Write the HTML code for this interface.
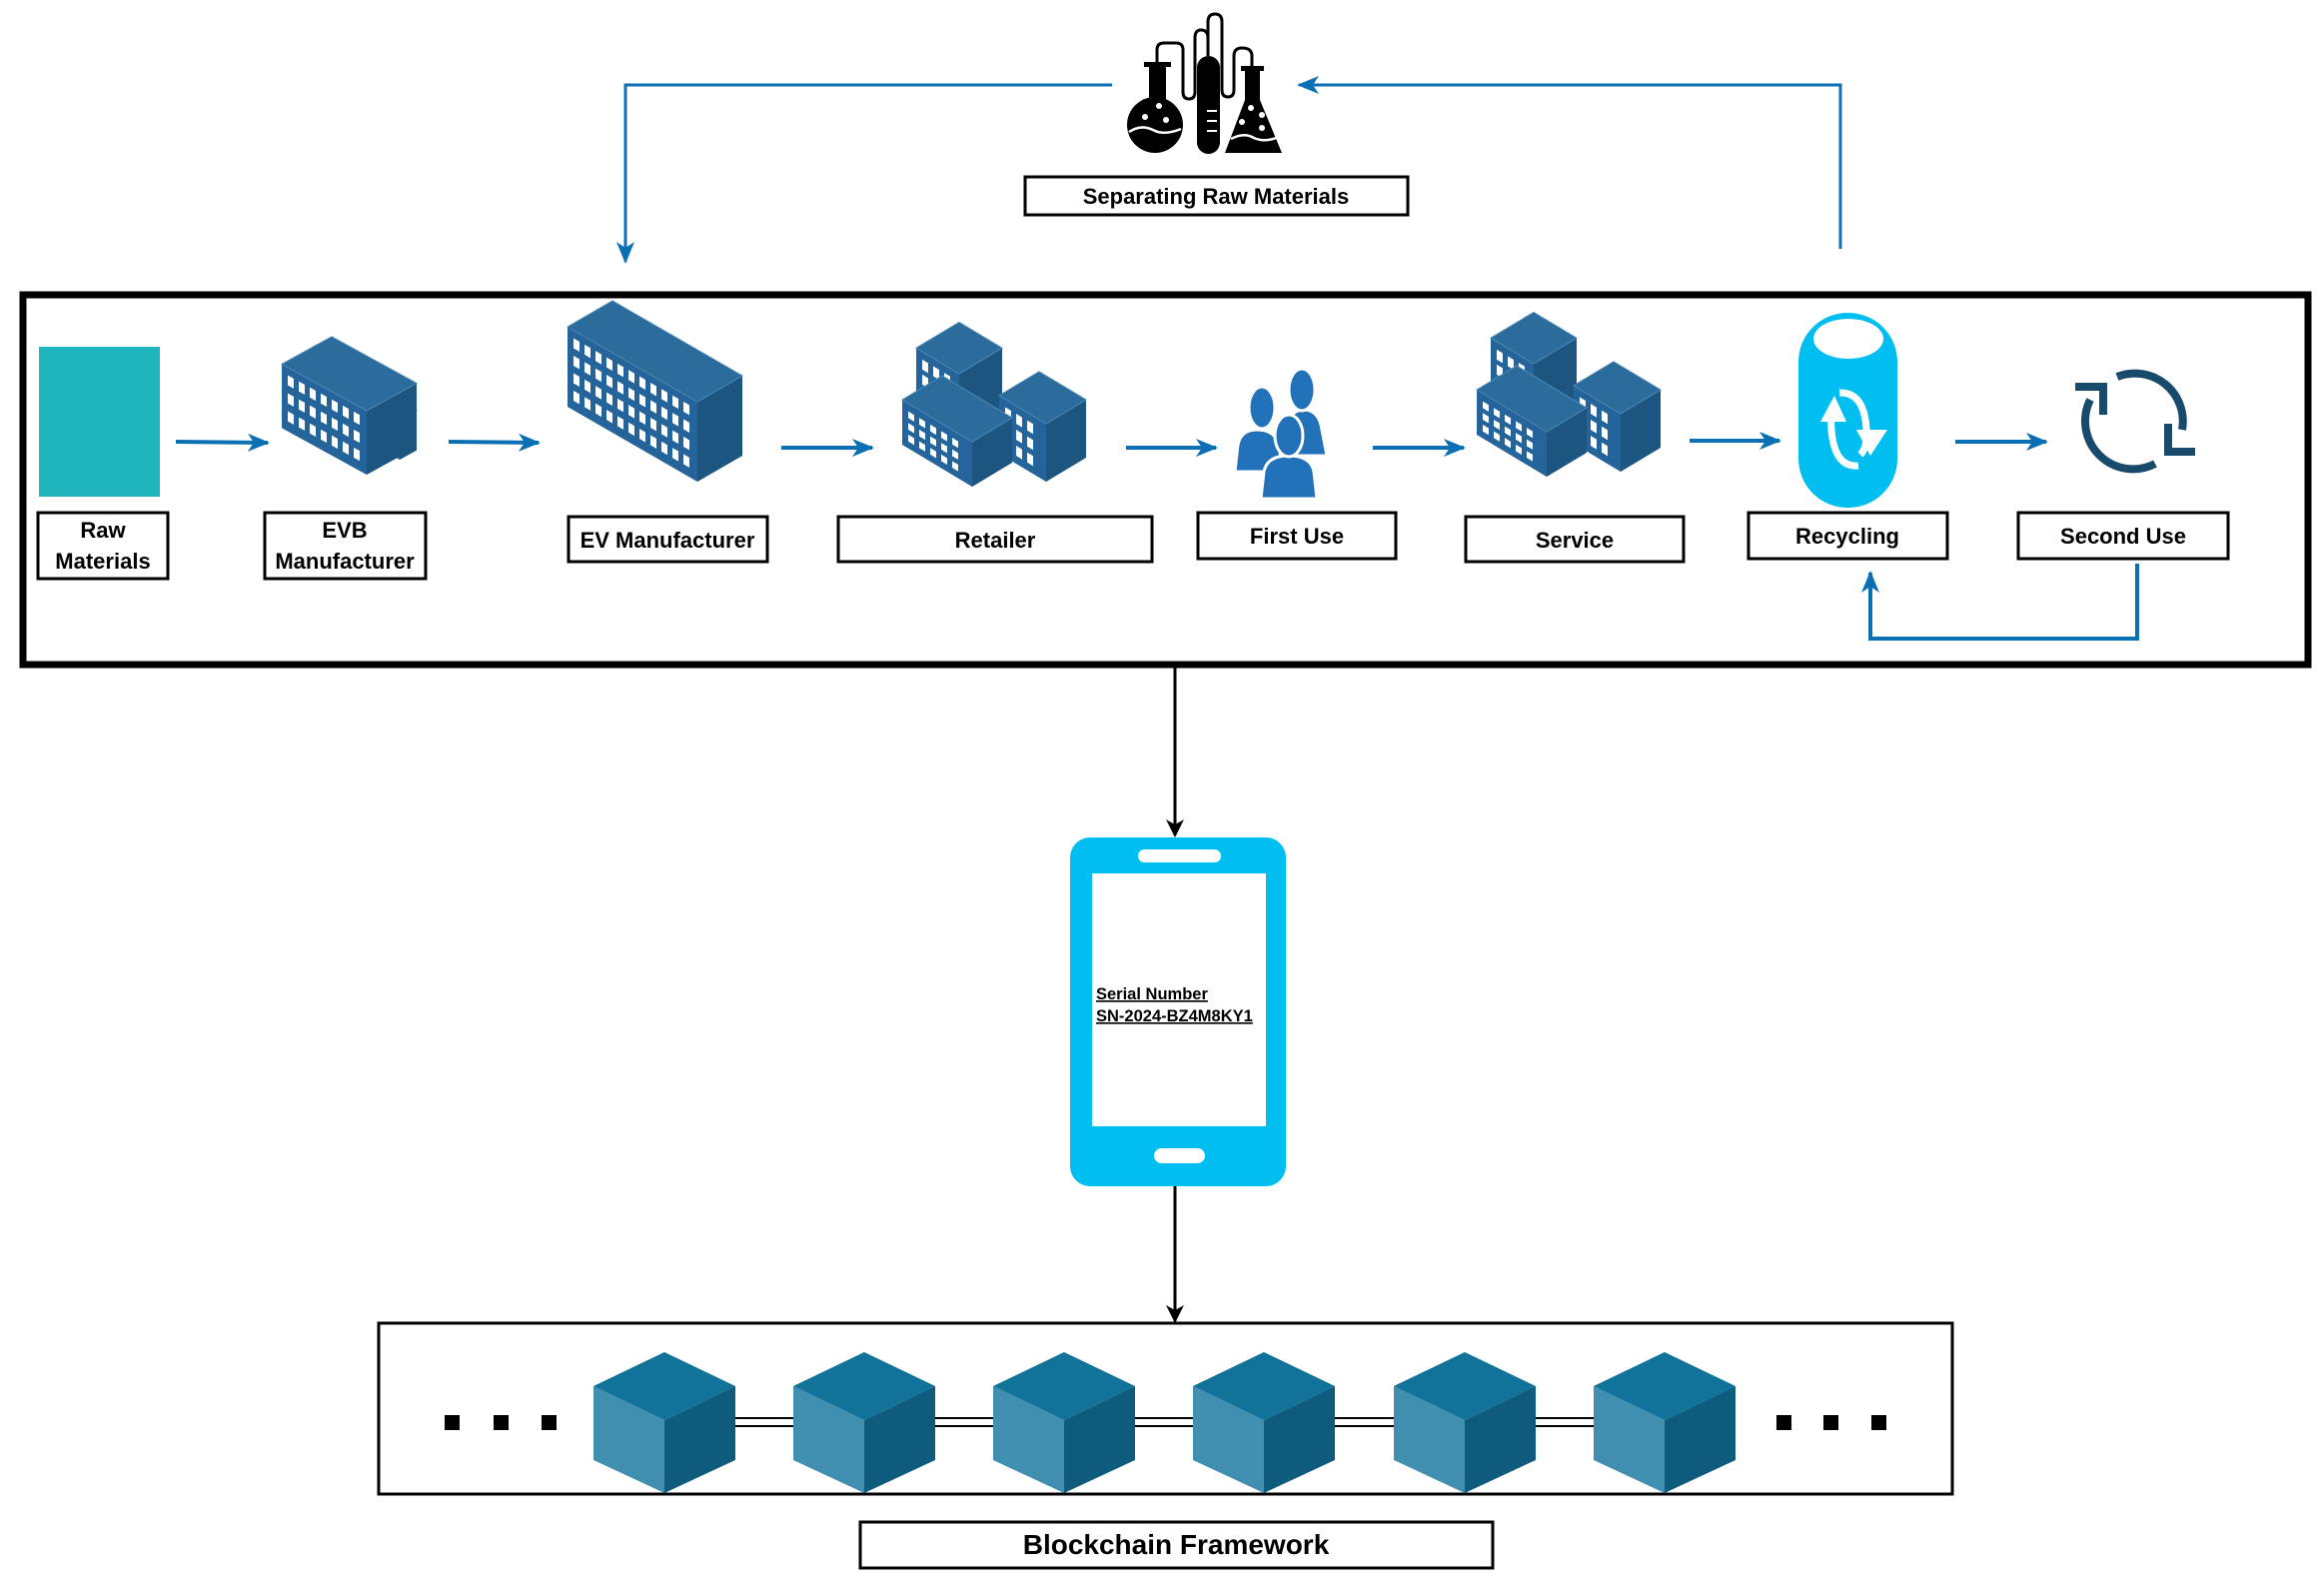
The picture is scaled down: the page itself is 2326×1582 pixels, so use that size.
<!DOCTYPE html>
<html><head><meta charset="utf-8">
<style>
html,body{margin:0;padding:0;background:#fff;}
svg{display:block;}
text{font-family:"Liberation Sans",Arial,sans-serif;font-weight:bold;}
</style></head>
<body>
<svg id="s" width="2326" height="1582" viewBox="0 0 2326 1582" xmlns="http://www.w3.org/2000/svg">
<defs>
<marker id="ab" markerWidth="22" markerHeight="18" refX="20" refY="9" orient="auto" markerUnits="userSpaceOnUse">
<path d="M0,0 L22,9 L0,18 L6,9 z" fill="#0B6FB4"/></marker>
<marker id="ak" markerWidth="18" markerHeight="22" refX="16" refY="9" orient="auto" markerUnits="userSpaceOnUse">
<path d="M0,0 L18,9 L0,18 L5,9 z" fill="#000"/></marker>
</defs>
<rect width="2326" height="1582" fill="#fff"/>

<!-- flask icon -->
<g fill="#000">
<circle cx="1156" cy="125" r="28"/>
<rect x="1150" y="64" width="17" height="40"/>
<rect x="1145" y="62" width="27" height="5"/>
<rect x="1198" y="56" width="23" height="98" rx="11.5"/>
<path d="M1246,70 L1261,70 L1261,100 L1283,153 L1226,153 L1246,100 z"/>
<rect x="1242" y="66" width="23" height="5"/>
</g>
<g fill="none" stroke="#000" stroke-width="3">
<path d="M1158,62 L1158,50 Q1158,43 1165,43 L1177,43 Q1184,43 1184,50 L1184,92 Q1184,99 1190,99 Q1196,99 1196,92 L1196,38 Q1196,30 1202,30 Q1209,30 1209,38 L1209,56"/>
<path d="M1209,56 L1209,22 Q1209,14 1216,14 Q1223,14 1223,22 L1223,90 Q1223,97 1229,97 Q1235,97 1235,90 L1235,56 Q1235,48 1243,48 Q1253,48 1253,56 L1253,66"/>
</g>
<g fill="#fff"><circle cx="1160" cy="106" r="3"/><circle cx="1146" cy="117" r="3"/><circle cx="1167" cy="120" r="3"/><circle cx="1252" cy="108" r="3"/><circle cx="1263" cy="115" r="3"/><circle cx="1243" cy="122" r="3"/><circle cx="1263" cy="128" r="3"/></g>
<path d="M1130,132 Q1142,124 1154,130 Q1165,136 1182,129" stroke="#fff" stroke-width="2.5" fill="none"/>
<path d="M1232,139 Q1245,132 1255,138 Q1266,143 1280,137" stroke="#fff" stroke-width="2.5" fill="none"/>
<g fill="#fff"><rect x="1208" y="110" width="10" height="2"/><rect x="1208" y="120" width="10" height="2"/><rect x="1208" y="130" width="10" height="2"/></g>

<rect x="1026" y="177" width="383" height="38" fill="#fff" stroke="#000" stroke-width="3"/>
<text x="1217" y="204" font-size="22" text-anchor="middle">Separating Raw Materials</text>

<!-- top connectors -->
<polyline points="1113,85 626,85 626,262" fill="none" stroke="#0B6FB4" stroke-width="3" marker-end="url(#ab)"/>
<polyline points="1842,249 1842,85 1300,85" fill="none" stroke="#0B6FB4" stroke-width="3" marker-end="url(#ab)"/>

<!-- main box -->
<rect x="23" y="295" width="2287" height="370" fill="none" stroke="#000" stroke-width="7"/>

<rect x="39" y="347" width="121" height="150" fill="#20B5BC"/>

<g id="bld"></g>

<!-- people -->
<g fill="#2272B9" stroke="#fff" stroke-width="3">
<path d="M1287,456 L1289,425 Q1292,410 1305,410 Q1318,410 1322,425 L1328,456 z"/>
<ellipse cx="1303" cy="390" rx="13" ry="21"/>
<path d="M1236,472 L1239,445 Q1242,430 1258,430 Q1276,430 1280,445 L1284,472 z"/>
<ellipse cx="1263" cy="408" rx="13" ry="21"/>
<path d="M1262,499 L1265,472 Q1268,456 1290,456 Q1312,456 1315,472 L1318,499 z"/>
<ellipse cx="1290" cy="436" rx="14" ry="21"/>
</g>

<!-- recycling cylinder -->
<rect x="1800" y="313" width="99" height="195" rx="49" fill="#00BFF0"/>
<ellipse cx="1850" cy="339" rx="35" ry="20" fill="#fff"/>
<g fill="none" stroke="#fff" stroke-width="7">
<path d="M1841,393 Q1866,392 1868,430 Q1869,448 1862,455"/>
<path d="M1860,466 Q1836,468 1833,430 Q1832,420 1834,414"/>
</g>
<path d="M1822,422 L1836,396 L1848,422 z" fill="#fff"/>
<path d="M1858,430 L1889,430 L1872,456 z" fill="#fff"/>

<!-- second use -->
<g fill="none" stroke="#174A6B" stroke-width="8">
<path d="M2119,377 A48,48 0 0 1 2184,430"/>
<path d="M2157,464 A48,48 0 0 1 2092,400"/>
</g>
<path d="M2077,383 L2109,383 L2109,415 L2101,415 L2101,391 L2077,391 z" fill="#174A6B"/>
<path d="M2197,456 L2166,456 L2166,424 L2174,424 L2174,448 L2197,448 z" fill="#174A6B"/>

<!-- arrows in main -->
<g stroke="#0B6FB4" stroke-width="4" marker-end="url(#ab)">
<line x1="176" y1="442" x2="268" y2="443"/>
<line x1="449" y1="442" x2="539" y2="443"/>
<line x1="782" y1="448" x2="873" y2="448"/>
<line x1="1127" y1="448" x2="1217" y2="448"/>
<line x1="1374" y1="448" x2="1465" y2="448"/>
<line x1="1691" y1="441" x2="1781" y2="441"/>
<line x1="1957" y1="442" x2="2048" y2="442"/>
</g>

<!-- labels -->
<g fill="#fff" stroke="#000" stroke-width="3">
<rect x="38" y="513" width="130" height="66"/>
<rect x="265" y="513" width="161" height="66"/>
<rect x="569" y="517" width="199" height="45"/>
<rect x="839" y="517" width="314" height="45"/>
<rect x="1199" y="513" width="198" height="46"/>
<rect x="1467" y="517" width="218" height="45"/>
<rect x="1750" y="513" width="199" height="46"/>
<rect x="2020" y="513" width="210" height="46"/>
</g>
<g font-size="22" text-anchor="middle" fill="#000">
<text x="103" y="538">Raw</text><text x="103" y="569">Materials</text>
<text x="345" y="538">EVB</text><text x="345" y="569">Manufacturer</text>
<text x="668" y="548">EV Manufacturer</text>
<text x="996" y="548">Retailer</text>
<text x="1298" y="544">First Use</text>
<text x="1576" y="548">Service</text>
<text x="1849" y="544">Recycling</text>
<text x="2125" y="544">Second Use</text>
</g>

<polyline points="2139,564 2139,639 1872,639 1872,573" fill="none" stroke="#0B6FB4" stroke-width="4" marker-end="url(#ab)"/>

<!-- black arrows -->
<line x1="1176" y1="668" x2="1176" y2="836" stroke="#000" stroke-width="3" marker-end="url(#ak)"/>
<line x1="1176" y1="1187" x2="1176" y2="1322" stroke="#000" stroke-width="3" marker-end="url(#ak)"/>

<!-- phone -->
<rect x="1071" y="838" width="216" height="349" rx="20" fill="#00BFF0"/>
<rect x="1093" y="874" width="174" height="253" fill="#fff"/>
<rect x="1139" y="850" width="83" height="13" rx="6.5" fill="#fff"/>
<rect x="1155" y="1149" width="51" height="15" rx="7.5" fill="#fff"/>
<text x="1097" y="1000" font-size="16.5" text-decoration="underline">Serial Number</text>
<text x="1097" y="1022" font-size="16.5" text-decoration="underline">SN-2024-BZ4M8KY1</text>

<!-- blockchain -->
<rect x="379" y="1324" width="1575" height="171" fill="none" stroke="#000" stroke-width="3"/>
<g id="chain"></g>
<g fill="#000">
<rect x="445" y="1416" width="15" height="15"/><rect x="494" y="1416" width="15" height="15"/><rect x="542" y="1416" width="15" height="15"/>
<rect x="1778" y="1416" width="15" height="15"/><rect x="1825" y="1416" width="15" height="15"/><rect x="1873" y="1416" width="15" height="15"/>
</g>
<rect x="861" y="1523" width="633" height="46" fill="#fff" stroke="#000" stroke-width="3"/>
<text x="1177" y="1555" font-size="28" text-anchor="middle">Blockchain Framework</text>
</svg>
<script>
(function(){
var NS="http://www.w3.org/2000/svg";
function el(p,tag,a){var e=document.createElementNS(NS,tag);for(var k in a)e.setAttribute(k,a[k]);p.appendChild(e);return e;}
function pts(a){return a.map(function(p){return p[0].toFixed(1)+","+p[1].toFixed(1);}).join(" ");}
var g=document.getElementById("bld");
function box(fx,fy,L,R,H,s,rows){
 var lt=[fx-L,fy-L*s-H],ft=[fx,fy-H],rt=[fx+R,fy-R*s-H],bt=[fx-L+R,fy-L*s-R*s-H];
 el(g,"polygon",{points:pts([lt,ft,[fx,fy],[fx-L,fy-L*s]]),fill:"#24649A"});
 el(g,"polygon",{points:pts([ft,rt,[fx+R,fy-R*s],[fx,fy]]),fill:"#1C5680"});
 el(g,"polygon",{points:pts([lt,bt,rt,ft]),fill:"#2B6C9C",stroke:"#4d88b3","stroke-width":1});
 var w=el(g,"g",{transform:"matrix(1,"+s+",0,1,"+(fx-L)+","+(fy-L*s-H)+")",fill:"#fff"});
 var cols=Math.floor((L-6)/11);var pr=(H-10)/rows;
 for(var r=0;r<rows;r++)for(var c=0;c<cols;c++)el(w,"rect",{x:6+c*11,y:8+r*pr,width:6,height:Math.min(10,pr-5)});
}
box(400,460,50,17,40,0.55,2);
box(367,475,85,50,64,0.55,3);
box(698,482,130,45,80,0.577,4);
function cluster(dx,dy){
 box(960+dx,444+dy,43,43,70,0.6,4);
 box(1047+dx,482+dy,47,40,58,0.6,3);
 box(973+dx,487+dy,70,40,45,0.6,3);
}
cluster(0,0);cluster(575,-10);
var ch=document.getElementById("chain");
var cx=[665,865,1065,1265,1466,1666],hw=71,t=1353,c1=1387,m=1421,c2=1461,b=1494;
for(var i=0;i<5;i++){
 el(ch,"line",{x1:cx[i]+hw,y1:1419,x2:cx[i+1]-hw,y2:1419,stroke:"#000","stroke-width":2});
 el(ch,"line",{x1:cx[i]+hw,y1:1427,x2:cx[i+1]-hw,y2:1427,stroke:"#000","stroke-width":2});
}
cx.forEach(function(x){
 el(ch,"polygon",{points:pts([[x-hw,c1],[x,m],[x,b],[x-hw,c2]]),fill:"#418FB0"});
 el(ch,"polygon",{points:pts([[x,m],[x+hw,c1],[x+hw,c2],[x,b]]),fill:"#0F5B7E"});
 el(ch,"polygon",{points:pts([[x,t],[x+hw,c1],[x,m],[x-hw,c1]]),fill:"#117399"});
});
})();
</script>
</body></html>
